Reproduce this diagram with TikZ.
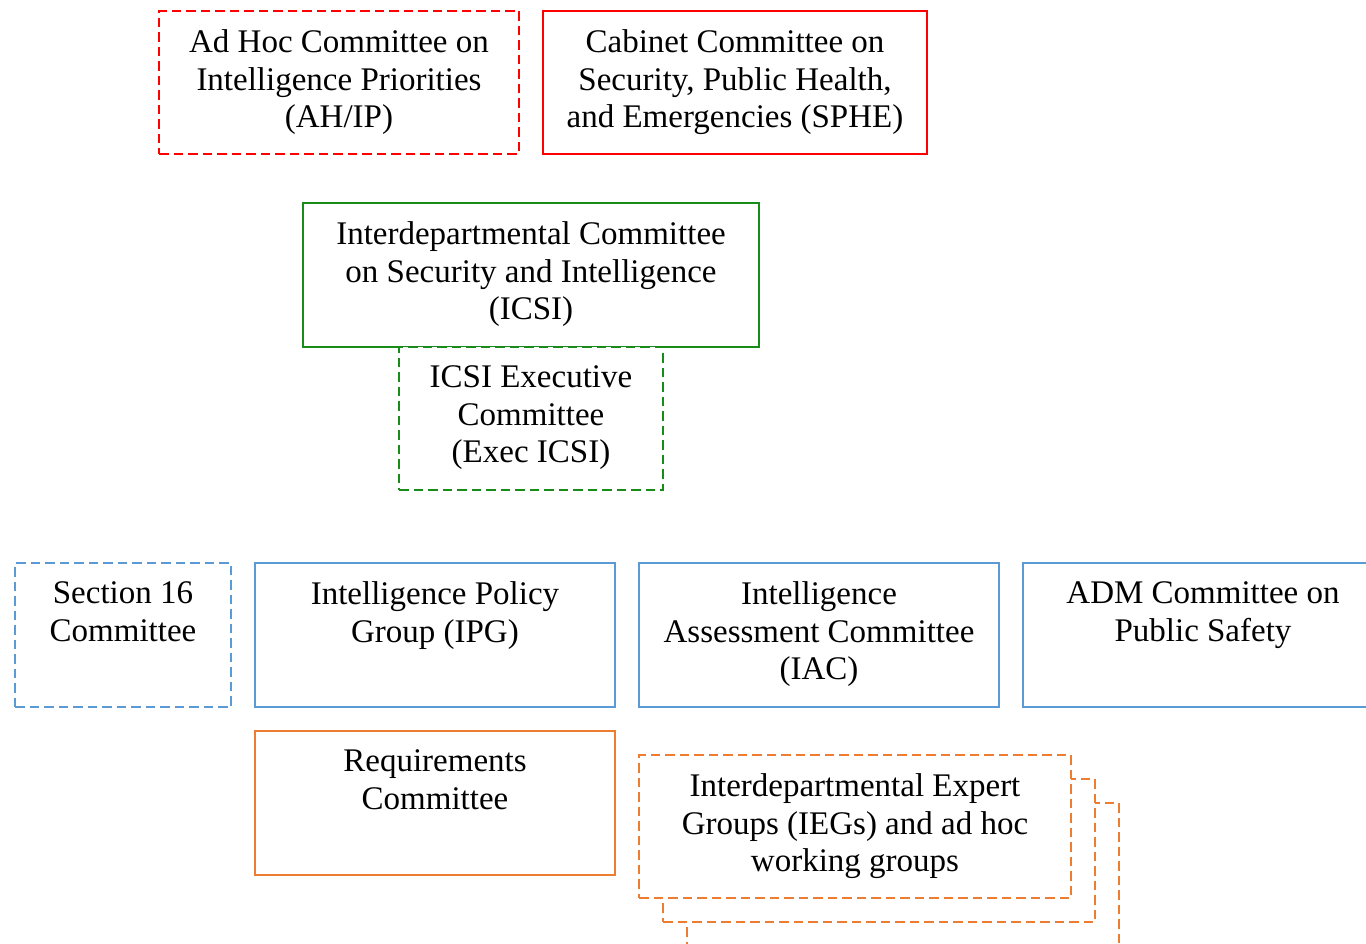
\documentclass[tikz,border=0pt]{standalone}
\usepackage{fontspec}
\setmainfont{Liberation Serif}
\definecolor{cred}{RGB}{255,0,0}
\definecolor{cgreen}{RGB}{24,140,24}
\definecolor{cblue}{RGB}{91,155,213}
\definecolor{corange}{RGB}{237,125,49}
\begin{document}
\begin{tikzpicture}[x=1pt,y=-1pt,
  box/.style={line width=1.6pt, rectangle, inner sep=0pt, fill=white},
  dbox/.style={box, dash pattern=on 9.5pt off 5pt},
  txt/.style={anchor=north, inner sep=0pt, align=center, text=black, font=\fontsize{33}{37.8}\selectfont}]
\useasboundingbox (0,0) rectangle (1366,944);
% top row
\node[dbox, draw=cred, minimum width=360pt, minimum height=143pt] (ahip) at (339,82.5) {};
\node[txt] (ahipt) at ([yshift=-19pt]ahip.north) {Ad Hoc Committee on\\Intelligence Priorities\\(AH/IP)};
\node[box, draw=cred, minimum width=384pt, minimum height=143pt] (sphe) at (735,82.5) {};
\node[txt] (sphet) at ([yshift=-19pt]sphe.north) {Cabinet Committee on\\Security, Public Health,\\and Emergencies (SPHE)};
% ICSI
\node[box, draw=cgreen, minimum width=456pt, minimum height=144pt] (icsi) at (531,275) {};
\node[txt] (icsit) at ([yshift=-19pt]icsi.north) {Interdepartmental Committee\\on Security and Intelligence\\(ICSI)};
\node[dbox, draw=cgreen, minimum width=264pt, minimum height=143pt] (exec) at (531,418.5) {};
\node[txt] (exect) at ([yshift=-19pt]exec.north) {ICSI Executive\\Committee\\(Exec ICSI)};
% blue row
\node[dbox, draw=cblue, minimum width=216pt, minimum height=144pt] (s16) at (123,635) {};
\node[txt] (s16t) at ([yshift=-19pt]s16.north) {Section 16\\Committee};
\node[box, draw=cblue, minimum width=360pt, minimum height=144pt] (ipg) at (435,635) {};
\node[txt] (ipgt) at ([yshift=-19pt]ipg.north) {Intelligence Policy\\Group (IPG)};
\node[box, draw=cblue, minimum width=360pt, minimum height=144pt] (iac) at (819,635) {};
\node[txt] (iact) at ([yshift=-19pt]iac.north) {Intelligence\\Assessment Committee\\(IAC)};
\node[box, draw=cblue, minimum width=360pt, minimum height=144pt] (adm) at (1203,635) {};
\node[txt] (admt) at ([yshift=-19pt]adm.north) {ADM Committee on\\Public Safety};
% orange
\node[box, draw=corange, minimum width=360pt, minimum height=144pt] (req) at (435,803) {};
\node[txt] (reqt) at ([yshift=-19pt]req.north) {Requirements\\Committee};
\node[dbox, draw=corange, minimum width=432pt, minimum height=143pt] (ieg3) at (903,874.5) {};
\node[dbox, draw=corange, minimum width=432pt, minimum height=143pt] (ieg2) at (879,850.5) {};
\node[dbox, draw=corange, minimum width=432pt, minimum height=143pt] (ieg1) at (855,826.5) {};
\node[txt] (iegt) at ([yshift=-19pt]ieg1.north) {Interdepartmental Expert\\Groups (IEGs) and ad hoc\\working groups};
\end{tikzpicture}
\end{document}
